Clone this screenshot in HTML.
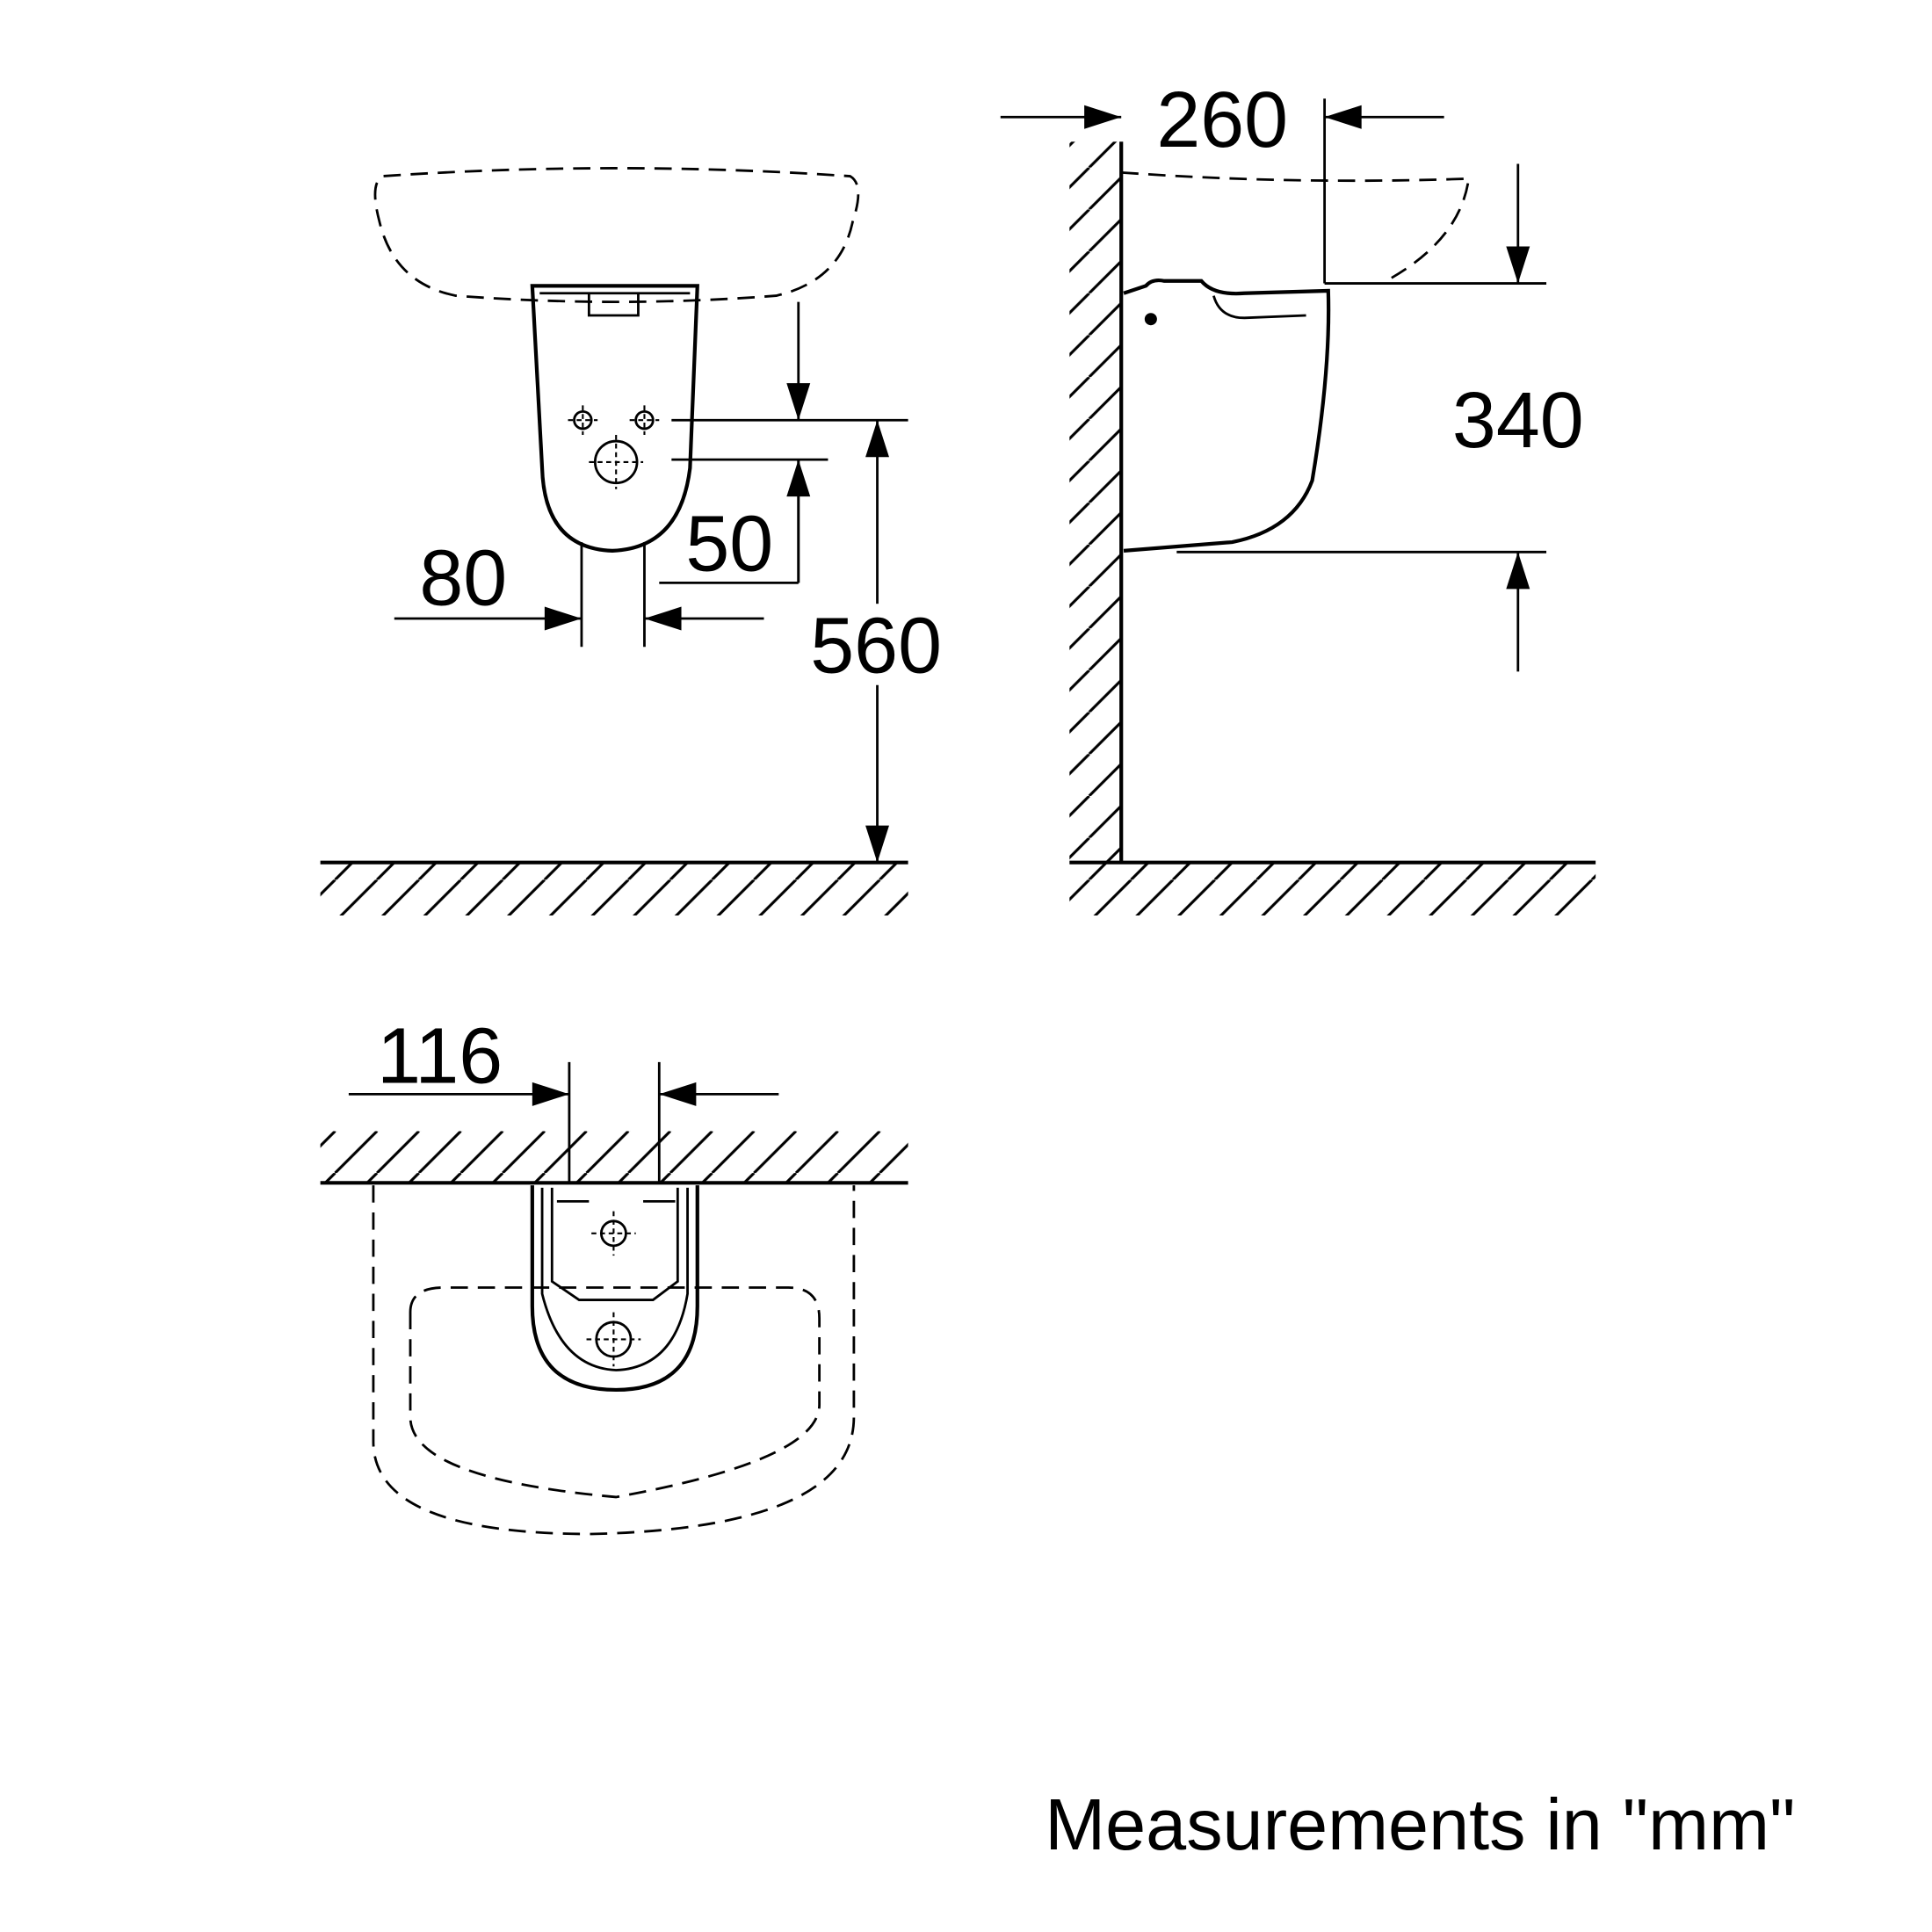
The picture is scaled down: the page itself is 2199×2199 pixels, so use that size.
<!DOCTYPE html>
<html><head><meta charset="utf-8"><style>
html,body{margin:0;padding:0;background:#fff}
svg{display:block}
text{font-family:"Liberation Sans",sans-serif;fill:#000}
</style></head><body>
<svg width="2199" height="2199" viewBox="0 0 1568 1568" xmlns="http://www.w3.org/2000/svg">
<defs>
<marker id="a" viewBox="0 0 10 10" refX="10" refY="5" markerWidth="48" markerHeight="30" markerUnits="userSpaceOnUse" orient="auto"><path d="M0,1.8 L10,5 L0,8.2 z" fill="#000"/></marker>
<pattern id="h" width="34" height="34" patternUnits="userSpaceOnUse"><path d="M34,0 L0,34 M0,0 L-34,34 M68,0 L34,34" stroke="#000" stroke-width="2.2"/></pattern>
</defs>
<g fill="none" stroke="#000" stroke-width="2">
<!-- FRONT VIEW -->
<path d="M370,240 Q320,230 308,180 Q300,150 310,143 Q500,130 690,143 Q702,150 692,180 Q682,228 630,240 Q500,250 370,240 Z" stroke-dasharray="14,8"/>
<path d="M432,232 L566,232 L560,380 Q552,445 497,447 Q442,445 440,380 Z" stroke-width="3"/>
<path d="M438,238 L560,238 M478,238 L478,256 L518,256 L518,238"/>
<circle cx="473" cy="341" r="7"/><circle cx="523" cy="341" r="7"/><circle cx="500" cy="375" r="17"/>
<path d="M461,341 H485 M473,329 V353 M511,341 H535 M523,329 V353 M478,375 H522 M500,353 V397" stroke-dasharray="4,3" stroke-width="1.5"/>
<path d="M545,341 H737 M545,373 H672 M535,473 H648 M648,473 V373"/>
<path d="M648,245 V341" marker-end="url(#a)"/>
<path d="M648,473 V373" marker-end="url(#a)"/>
<path d="M472,440 V525 M523,440 V525"/>
<path d="M320,502 H472" marker-end="url(#a)"/>
<path d="M620,502 H523" marker-end="url(#a)"/>
<path d="M712,520 V341" marker-end="url(#a)"/>
<path d="M712,520 V700" marker-end="url(#a)"/>
<rect x="260" y="701" width="477" height="42" fill="url(#h)" stroke="none"/>
<path d="M260,700 H737" stroke-width="3"/>
<!-- SIDE VIEW -->
<rect x="868" y="115" width="42" height="585" fill="url(#h)" stroke="none"/>
<path d="M910,115 V700 M868,700 H1295" stroke-width="3"/>
<rect x="868" y="701" width="427" height="42" fill="url(#h)" stroke="none"/>
<path d="M910,140 Q1050,150 1192,145 Q1185,195 1125,228" stroke-dasharray="14,8"/>
<path d="M912,238 L930,232 Q935,226 945,228 L975,228 Q985,240 1010,238 L1078,236 Q1080,300 1065,390 Q1050,430 1000,440 L912,447" stroke-width="3"/>
<path d="M985,240 Q990,258 1010,258 L1060,256"/>
<circle cx="934" cy="259" r="4" fill="#000"/>
<path d="M812,95 H910" marker-end="url(#a)"/>
<path d="M1172,95 H1075" marker-end="url(#a)"/>
<path d="M1075,80 V230 M1075,230 H1255 M955,448 H1255"/>
<path d="M1232,133 V230" marker-end="url(#a)"/>
<path d="M1232,545 V448" marker-end="url(#a)"/>
<!-- TOP VIEW -->
<rect x="260" y="918" width="477" height="42" fill="url(#h)" stroke="none"/>
<path d="M260,960 H737" stroke-width="3"/>
<path d="M462,862 V960 M535,862 V960"/>
<path d="M283,888 H462" marker-end="url(#a)"/>
<path d="M632,888 H535" marker-end="url(#a)"/>
<path d="M303,962 V1170 Q303,1245 480,1245 Q693,1240 693,1150 V962" stroke-dasharray="14,8"/>
<path d="M333,1065 Q333,1045 360,1045 H640 Q665,1045 665,1070 V1140 Q665,1185 500,1215 Q333,1200 333,1150 Z" stroke-dasharray="14,8"/>
<path d="M432,962 V1060 Q432,1128 500,1128 Q566,1128 566,1060 V962" stroke-width="3"/>
<path d="M440,964 V1050 Q455,1110 500,1112 Q548,1110 558,1050 V964 M448,964 V1040 L470,1055 L530,1055 L550,1040 V964 M452,975 H478 M522,975 H548"/>
<circle cx="498" cy="1001" r="10"/><circle cx="498" cy="1087" r="14"/>
<path d="M480,1001 H516 M498,983 V1019 M476,1087 H520 M498,1065 V1109" stroke-dasharray="4,3" stroke-width="1.5"/>
</g>
<rect x="650" y="490" width="122" height="66" fill="#fff"/>
<g font-size="64">
<text x="376" y="491" text-anchor="middle">80</text>
<text x="592" y="463" text-anchor="middle">50</text>
<text x="711" y="546" text-anchor="middle">560</text>
<text x="992" y="119" text-anchor="middle">260</text>
<text x="1232" y="363" text-anchor="middle">340</text>
<text x="357" y="879" text-anchor="middle">116</text>
</g>
<text x="848" y="1501" font-size="59">Measurements in "mm"</text>
</svg>
</body></html>
